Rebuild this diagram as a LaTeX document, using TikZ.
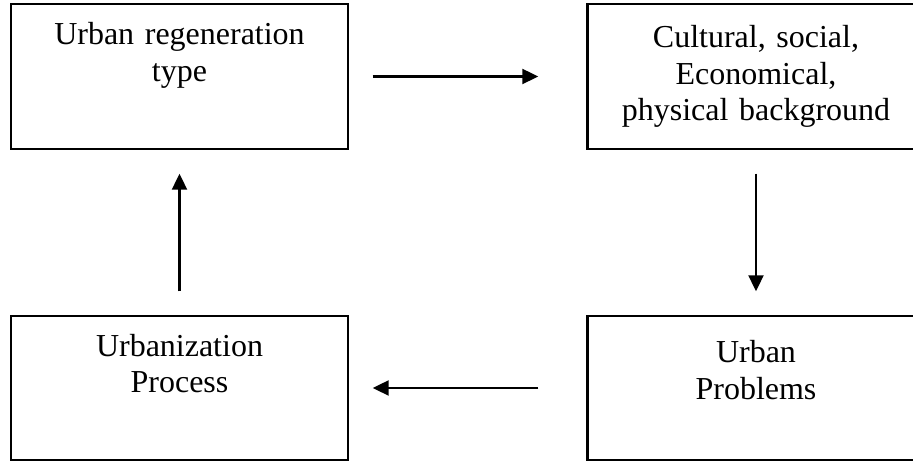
\documentclass[tikz,border=0pt]{standalone}
\usepackage{fontspec}
\setmainfont{Liberation Serif}
\usetikzlibrary{arrows.meta}

\begin{document}
\begin{tikzpicture}
\tikzset{
    block/.style={draw, line width=1.4pt, minimum width=6.74cm, minimum height=2.9cm,
        inner sep=0pt, text width=6.4cm, align=center,
        font=\fontsize{18.2}{20.8}\selectfont},
    flow/.style={line width=1.3pt, -{Triangle[length=0.32cm, width=0.3cm]}}}
\def\gap{0.47}
\def\farx{0.96}

\useasboundingbox (0,0) rectangle (18.26,-9.22);

\node[block] (regen) at (3.59,-1.53) {Urban regeneration\\ type\\ \rule[-7pt]{0pt}{7pt}};
\node[block] (backg) at (15.12,-1.53) {Cultural, social,\\ Economical,\\ physical background};
\node[block, minimum height=2.88cm] (probs) at (15.12,-7.76) {Urban\\ Problems\\ \mbox{}};
\node[block, minimum height=2.88cm] (urbz) at (3.59,-7.76) {Urbanization\\ Process\\ \rule[-7pt]{0pt}{7pt}};

\draw[flow] ([xshift=\gap cm]regen.east)--([xshift=-\farx cm]backg.west);
\draw[flow] ([yshift=-\gap cm]backg.south)--([yshift=\gap cm]probs.north);
\draw[flow] ([xshift=-\farx cm]probs.west)--([xshift=\gap cm]urbz.east);
\draw[flow] ([yshift=\gap cm]urbz.north)--([yshift=-\gap cm]regen.south);

\end{tikzpicture}
\end{document}
